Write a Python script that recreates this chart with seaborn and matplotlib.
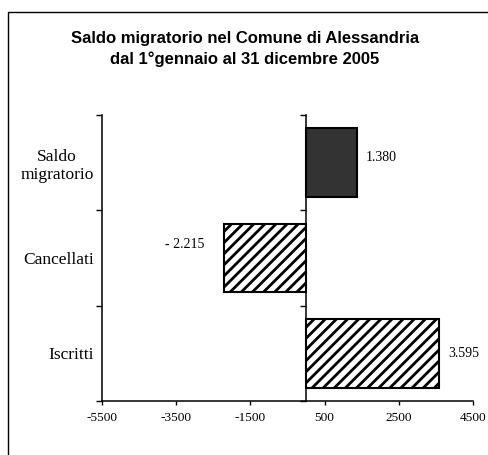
import matplotlib
matplotlib.use('Agg')
import matplotlib.pyplot as plt
import pandas as pd
import seaborn as sns
from matplotlib.patches import Rectangle

# dati
voci = ['Saldo\nmigratorio', 'Cancellati', 'Iscritti']
valori = [1380, -2215, 3595]
etichette = ['1.380', '- 2.215', '3.595']
tick_x = [-5500, -3500, -1500, 500, 2500, 4500]

df = pd.DataFrame({'voce': voci, 'valore': valori})

sns.set_style('white')
plt.rcParams['font.family'] = ['Liberation Serif', 'DejaVu Serif']
plt.rcParams['hatch.linewidth'] = 2.0
for k in ['text.color', 'xtick.color', 'ytick.color', 'axes.labelcolor']:
    plt.rcParams[k] = 'black'

fig = plt.figure(figsize=(4.88, 4.55), dpi=100)
ax = fig.add_axes([102 / 488, 1 - 401 / 455, (473 - 102) / 488, (401 - 115) / 455])

sns.barplot(data=df, x='valore', y='voce', orient='h', ax=ax, width=0.72,
            color='white', saturation=1, edgecolor='black', linewidth=1.5)

for patch, v in zip(ax.patches, voci):
    if v.startswith('Saldo'):
        patch.set_facecolor('#333333')
    else:
        patch.set_facecolor('white')
        patch.set_hatch('///')

ax.set_xlim(-5500, 4500)
ax.set_xticks(tick_x)
ax.set_xticklabels([str(t) for t in tick_x], fontsize=9.6)
ax.set_xlabel('')
ax.set_ylabel('')
ax.tick_params(axis='x', direction='out', length=3, width=1, pad=5, bottom=True)

ax.set_yticks([0, 1, 2])
ax.set_yticklabels(voci, fontsize=12.5, multialignment='center')
ax.set_yticks([-0.5, 0.5, 1.5, 2.5], minor=True)
ax.tick_params(axis='y', which='major', length=0, pad=6)
ax.tick_params(axis='y', which='minor', direction='out', length=4, width=1, left=True)

for side in ['top', 'right']:
    ax.spines[side].set_visible(False)
for side in ['left', 'bottom']:
    ax.spines[side].set_color('black')
    ax.spines[side].set_linewidth(1.1)

# asse verticale sullo zero
sec = ax.secondary_yaxis(0, transform=ax.transData)
sec.set_yticks([-0.5, 0.5, 1.5, 2.5])
sec.set_yticklabels([])
sec.tick_params(direction='out', length=4, width=1)
sec.spines['left'].set_linewidth(1.1)
sec.spines['left'].set_color('black')

# etichette dei valori
offsets = [(8, 5), (-19, 14), (9, 0)]
for i, (val, lab, off) in enumerate(zip(valori, etichette, offsets)):
    ha = 'left' if val >= 0 else 'right'
    ax.annotate(lab, xy=(val, i), xytext=off, textcoords='offset pixels',
                ha=ha, va='center', fontsize=10)

fig.text(245 / 488, 1 - 49 / 455,
         'Saldo migratorio nel Comune di Alessandria\ndal 1°gennaio al 31 dicembre 2005',
         ha='center', va='center', fontsize=12, fontweight='bold', color='black',
         family=['Liberation Sans', 'DejaVu Sans'], linespacing=1.42)

fig.add_artist(Rectangle((8 / 488, -0.1), 1.0, 1 - 12 / 455 + 0.1,
                         transform=fig.transFigure, fill=False,
                         edgecolor='black', linewidth=1))

fig.savefig('out.png', dpi=100)
